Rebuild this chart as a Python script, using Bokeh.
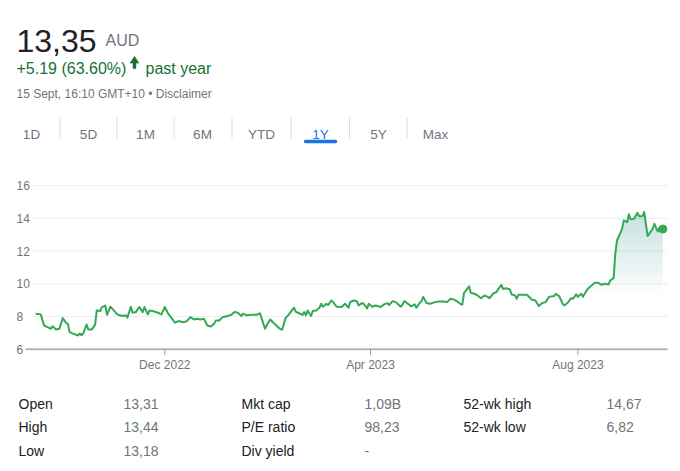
import numpy as np
import pandas as pd
from bokeh.plotting import figure
from bokeh.layouts import column
from bokeh.models import Range1d, FixedTicker, DatetimeTickFormatter, Label
from bokeh.core.properties import value
from bokeh.embed import file_html
from bokeh.resources import INLINE

# ---------------- data ----------------
dates = [
    "2022-09-16", "2022-09-19", "2022-09-21", "2022-09-23", "2022-09-25", "2022-09-26", "2022-09-28", "2022-09-30",
    "2022-10-02", "2022-10-04", "2022-10-05", "2022-10-06", "2022-10-08", "2022-10-11", "2022-10-12", "2022-10-13",
    "2022-10-14", "2022-10-16", "2022-10-17", "2022-10-19", "2022-10-21", "2022-10-22", "2022-10-24", "2022-10-25",
    "2022-10-27", "2022-10-28", "2022-10-30",
    "2022-11-01", "2022-11-03", "2022-11-06", "2022-11-08", "2022-11-09", "2022-11-11", "2022-11-12", "2022-11-14",
    "2022-11-16", "2022-11-18", "2022-11-19", "2022-11-21", "2022-11-22", "2022-11-25", "2022-11-27", "2022-11-29",
    "2022-12-01", "2022-12-03", "2022-12-05", "2022-12-07", "2022-12-09", "2022-12-12", "2022-12-14", "2022-12-16",
    "2022-12-18", "2022-12-20", "2022-12-22", "2022-12-24", "2022-12-26", "2022-12-28", "2022-12-30", "2022-12-31",
    "2023-01-02", "2023-01-04", "2023-01-07", "2023-01-09", "2023-01-11", "2023-01-13", "2023-01-15", "2023-01-16",
    "2023-01-18", "2023-01-21", "2023-01-24", "2023-01-26", "2023-01-28", "2023-01-29", "2023-01-31",
    "2023-02-01", "2023-02-03", "2023-02-06", "2023-02-07", "2023-02-08", "2023-02-10", "2023-02-12", "2023-02-13",
    "2023-02-15", "2023-02-16", "2023-02-18", "2023-02-20", "2023-02-21", "2023-02-22", "2023-02-23", "2023-02-25",
    "2023-02-26", "2023-02-28",
    "2023-03-02", "2023-03-03", "2023-03-04", "2023-03-06", "2023-03-07", "2023-03-09", "2023-03-10", "2023-03-12",
    "2023-03-15", "2023-03-17", "2023-03-19", "2023-03-20", "2023-03-22", "2023-03-24", "2023-03-25", "2023-03-27",
    "2023-03-28", "2023-03-30", "2023-03-31",
    "2023-04-02", "2023-04-04", "2023-04-07", "2023-04-09", "2023-04-11", "2023-04-12", "2023-04-14", "2023-04-16",
    "2023-04-18", "2023-04-19", "2023-04-21", "2023-04-23", "2023-04-25", "2023-04-27", "2023-04-28", "2023-04-30",
    "2023-05-01", "2023-05-02", "2023-05-04", "2023-05-06", "2023-05-09", "2023-05-11", "2023-05-14", "2023-05-16",
    "2023-05-18", "2023-05-20", "2023-05-22", "2023-05-24", "2023-05-25", "2023-05-26", "2023-05-29", "2023-05-30",
    "2023-06-01", "2023-06-03", "2023-06-05", "2023-06-07", "2023-06-09", "2023-06-10", "2023-06-12", "2023-06-14",
    "2023-06-17", "2023-06-18", "2023-06-20", "2023-06-22", "2023-06-23", "2023-06-25", "2023-06-26", "2023-06-27",
    "2023-06-29",
    "2023-07-02", "2023-07-05", "2023-07-07", "2023-07-09", "2023-07-11", "2023-07-13", "2023-07-15", "2023-07-18",
    "2023-07-19", "2023-07-21", "2023-07-23", "2023-07-24", "2023-07-26", "2023-07-28", "2023-07-29", "2023-07-31",
    "2023-08-01", "2023-08-03", "2023-08-04", "2023-08-06", "2023-08-07", "2023-08-09", "2023-08-11", "2023-08-13",
    "2023-08-15", "2023-08-17", "2023-08-19", "2023-08-20", "2023-08-22", "2023-08-23", "2023-08-24", "2023-08-26",
    "2023-08-27", "2023-08-28", "2023-08-30", "2023-08-31",
    "2023-09-01", "2023-09-03", "2023-09-05", "2023-09-06", "2023-09-08", "2023-09-09", "2023-09-11", "2023-09-12",
    "2023-09-14", "2023-09-15", "2023-09-17", "2023-09-18", "2023-09-20",
]
prices = [
    8.17, 8.13, 7.45, 7.35, 7.25, 7.40, 7.20, 7.25,
    7.90, 7.60, 7.55, 7.04, 6.95, 6.84, 6.96, 6.85,
    6.97, 7.51, 7.20, 7.20, 7.50, 8.37, 8.33, 8.57,
    8.67, 8.10, 8.60,
    8.37, 8.13, 8.03, 8.07, 7.93, 8.60, 8.23, 8.27,
    8.58, 8.27, 8.58, 8.13, 8.37, 8.30, 8.23, 8.13,
    8.58, 8.17, 7.90, 7.62, 7.72, 7.65, 7.72, 7.96,
    7.82, 7.86, 7.82, 7.86, 7.45, 7.39, 7.55, 7.76,
    7.76, 7.96, 8.03, 8.10, 8.27, 8.23, 8.03, 8.17,
    8.07, 8.10, 8.10, 8.20, 7.55, 7.25, 7.66,
    7.82, 7.60, 7.31, 7.25, 7.19, 7.90, 8.13, 8.27,
    8.54, 8.30, 8.20, 8.10, 8.27, 8.07, 8.37, 8.03,
    8.33, 8.37,
    8.54, 8.78, 8.60, 8.78, 8.70, 8.98, 8.88, 8.60,
    8.58, 8.78, 8.54, 8.88, 8.98, 8.94, 8.67, 8.82,
    8.78, 8.50, 8.78,
    8.60, 8.67, 8.58, 8.74, 8.82, 8.70, 8.94, 8.88,
    8.67, 8.60, 8.94, 8.78, 8.62, 8.74, 8.54, 8.84,
    8.94, 9.20, 8.82, 8.78, 8.88, 8.92, 8.92, 8.88,
    9.08, 9.04, 8.92, 8.76, 8.72, 9.43, 9.84, 9.45,
    9.39, 9.29, 9.12, 9.29, 9.20, 9.12, 9.39, 9.49,
    9.94, 9.69, 9.73, 9.65, 9.35, 9.29, 9.08, 9.33,
    9.33,
    9.33, 9.02, 8.98, 8.64, 8.82, 8.88, 9.20, 9.25,
    9.39, 9.25, 8.78, 8.67, 8.84, 9.12, 9.08, 9.35,
    9.20, 9.39, 9.20, 9.57, 9.71, 9.90, 10.06, 10.06,
    9.94, 10.00, 9.96, 10.20, 10.35, 11.84, 12.65, 13.12,
    13.37, 13.88, 13.78, 14.25,
    13.94, 13.98, 14.35, 14.13, 14.15, 14.40, 12.93, 13.07,
    13.37, 13.67, 13.20, 13.43, 13.35,
]

price_now = "13,35"
currency = "AUD"
change_text = "+5.19 (63.60%)"
period_text = "past year"
timestamp_text = "15 Sept, 16:10 GMT+10 • Disclaimer"
range_tabs = ["1D", "5D", "1M", "6M", "YTD", "1Y", "5Y", "Max"]
active_tab = "1Y"
y_ticks = [6, 8, 10, 12, 14, 16]
x_tick_dates = ["2022-12-01", "2023-04-01", "2023-08-01"]
stat_labels = [["Open", "High", "Low"], ["Mkt cap", "P/E ratio", "Div yield"], ["52-wk high", "52-wk low"]]
stat_values = [["13,31", "13,44", "13,18"], ["1,09B", "98,23", "-"], ["14,67", "6,82"]]

# ---------------- styles ----------------
FONT = value("Liberation Sans")
GREEN = "#34a853"
GREEN_TEXT = "#137333"
DARK = "#202124"
GRAY = "#70757a"
BLUE = "#1a73e8"
PX_PER_UNIT = 16.35  # vertical scale of the chart (pixels per AUD)


def blank(h):
    f = figure(width=680, height=h, x_range=Range1d(0, 680), y_range=Range1d(h, 0),
               x_axis_type=None, y_axis_type=None, output_backend="svg",
               toolbar_location=None, min_border=0)
    f.grid.visible = False
    f.outline_line_color = None
    f.background_fill_color = "white"
    f.border_fill_color = "white"
    return f


# ---------------- header ----------------
hdr = blank(165)
hdr.text(x=[16], y=[40], text=[price_now], text_font=FONT, text_font_size="32px",
         text_color=DARK, text_baseline="alphabetic")
hdr.text(x=[105], y=[40], text=[currency], text_font=FONT, text_font_size="16px",
         text_color=GRAY, text_baseline="alphabetic")
hdr.text(x=[16], y=[68], text=[change_text], text_font=FONT, text_font_size="16px",
         text_color=GREEN_TEXT, text_baseline="alphabetic")
hdr.patch(x=[129.6, 134, 138.4, 135.5, 135.5, 132.5, 132.5],
          y=[62.6, 55.8, 62.6, 62.6, 68, 68, 62.6], color=GREEN_TEXT, line_width=0.5)
hdr.text(x=[145], y=[68], text=[period_text], text_font=FONT, text_font_size="16px",
         text_color=GREEN_TEXT, text_baseline="alphabetic")
hdr.text(x=[16], y=[93], text=[timestamp_text], text_font=FONT, text_font_size="12px",
         text_color=GRAY, text_baseline="alphabetic")

tab_centers = [31, 88, 145, 202, 261, 320, 378, 435]
tab_colors = [BLUE if t == active_tab else GRAY for t in range_tabs]
hdr.text(x=tab_centers, y=[134] * len(range_tabs), text=range_tabs, text_font=FONT,
         text_font_size="13.5px", text_color=tab_colors, text_align="center",
         text_baseline="alphabetic")
sep_x = [(a + b) / 2 for a, b in zip(tab_centers[:-1], tab_centers[1:])]
hdr.segment(x0=sep_x, x1=sep_x, y0=[117] * len(sep_x), y1=[138] * len(sep_x),
            line_color="#dadce0", line_width=1)
ai = range_tabs.index(active_tab)
hdr.segment(x0=[tab_centers[ai] - 15], x1=[tab_centers[ai] + 15], y0=[141], y1=[141],
            line_color=BLUE, line_width=3.5, line_cap="round")

# ---------------- chart ----------------
x = pd.to_datetime(dates)
y = np.array(prices)


def ts(s):
    return pd.Timestamp(s).to_pydatetime()


# frame spans the full width (0..680 px, about 1.70 px per day) and extends
# 8 px below the price 6 baseline so the lowest tick label is not cut off
y_lo = 6 - 8.3 / PX_PER_UNIT
y_hi = y_lo + 182 / PX_PER_UNIT
chart = figure(width=680, height=215, x_axis_type="datetime", y_axis_type=None,
               x_range=Range1d(ts("2022-08-26 08:24"), ts("2023-09-30 08:24")),
               y_range=Range1d(y_lo, y_hi), output_backend="svg", toolbar_location=None,
               min_border_left=0, min_border_right=0, min_border_top=10, min_border_bottom=23)
chart.outline_line_color = None
chart.grid.visible = False
chart.background_fill_color = "white"
chart.border_fill_color = "white"

grid_start, grid_end, axis_start = ts("2022-09-14 05:00"), ts("2023-09-22 17:00"), ts("2022-09-10 02:00")
gt = y_ticks[1:]
chart.segment(x0=[grid_start] * len(gt), x1=[grid_end] * len(gt), y0=gt, y1=gt,
              line_color="#eeeeee", line_width=1)

# gradient fill under the line (fades out toward lower prices)
for lo in np.linspace(9.2, 14.4, 30):
    chart.varea(x=x, y1=np.full_like(y, lo), y2=np.maximum(y, lo),
                fill_color=GREEN, fill_alpha=0.008)

# baseline axis line and month tick marks
tick_x = [ts(d) for d in x_tick_dates]
chart.segment(x0=[axis_start], x1=[grid_end], y0=[y_ticks[0]], y1=[y_ticks[0]],
              line_color="#b5b5b5", line_width=2)
chart.segment(x0=tick_x, x1=tick_x, y0=[y_ticks[0]] * 3,
              y1=[y_ticks[0] - 6 / PX_PER_UNIT] * 3, line_color="#9e9e9e", line_width=1)

chart.line(x, y, line_color=GREEN, line_width=2, line_join="round")
chart.scatter(x=[x[-1]], y=[y[-1]], size=8, color=GREEN)

xa = chart.xaxis[0]
xa.ticker = FixedTicker(ticks=[pd.Timestamp(d).value / 1e6 for d in x_tick_dates])
fmt = "%b %Y"
xa.formatter = DatetimeTickFormatter(milliseconds=fmt, seconds=fmt, minsec=fmt, minutes=fmt,
                                     hourmin=fmt, hours=fmt, days=fmt, months=fmt, years=fmt)
xa.axis_line_color = None
xa.major_tick_line_color = None
xa.major_tick_out = 0
xa.major_tick_in = 0
xa.minor_tick_line_color = None
xa.major_label_text_font = "Liberation Sans"
xa.major_label_text_font_size = "12px"
xa.major_label_text_color = GRAY
xa.major_label_standoff = 0

for t in y_ticks:
    chart.add_layout(Label(x=16, y=t, x_units="screen", y_units="data", text=str(t),
                           text_font="Liberation Sans", text_font_size="12px",
                           text_color=GRAY, text_align="left", text_baseline="middle"))

# ---------------- stats table ----------------
tbl = blank(91)
label_x = [18, 241, 463]
value_x = [123, 364, 606]
row_y = [23, 46, 70]
for c in range(3):
    n = len(stat_labels[c])
    tbl.text(x=[label_x[c]] * n, y=row_y[:n], text=stat_labels[c], text_font=FONT,
             text_font_size="14px", text_color=DARK, text_baseline="middle")
    tbl.text(x=[value_x[c]] * n, y=row_y[:n], text=stat_values[c], text_font=FONT,
             text_font_size="14px", text_color=GRAY, text_baseline="middle")

layout = column(hdr, chart, tbl, spacing=0)
open("out.html", "w").write(file_html(layout, INLINE))
